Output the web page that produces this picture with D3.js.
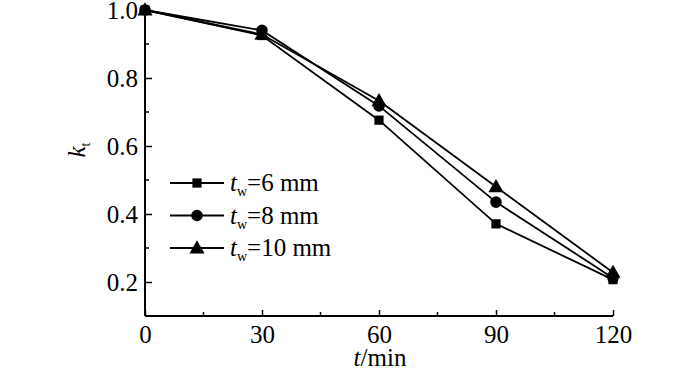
<!DOCTYPE html>
<html>
<head>
<meta charset="utf-8">
<script src="https://cdn.jsdelivr.net/npm/d3@7"></script>
<style>
  body { margin: 0; background: #fff; }
  svg text { font-family: "Liberation Serif", "Times New Roman", serif !important; fill: #000; }
</style>
</head>
<body>
<div id="chart"></div>
<script>
// data
const times = [0, 30, 60, 90, 120];
const kt6 = [1.0, 0.925, 0.676, 0.371, 0.207];
const kt8 = [1.0, 0.94, 0.718, 0.435, 0.212];
const kt10 = [1.0, 0.928, 0.733, 0.48, 0.228];
const seriesNames = ["6", "8", "10"];
const xTicks = [0, 30, 60, 90, 120];
const yTicks = [0.2, 0.4, 0.6, 0.8, 1.0];

const width = 700, height = 370;
const fs = 25;
const svg = d3.select("#chart").append("svg")
  .attr("width", width).attr("height", height);

const x = d3.scaleLinear().domain([0, 120]).range([145, 613]);
const y = d3.scaleLinear().domain([0.1, 1.0]).range([316, 10]);

// axes, ticks pointing inward
const xAxis = d3.axisBottom(x).tickValues(xTicks).tickSize(-6).tickPadding(9)
  .tickFormat(d3.format("d"));
const gx = svg.append("g").attr("transform", `translate(0,${y(0.1)})`).call(xAxis);
gx.selectAll(null)
  .data(xTicks.slice(0, -1).map(d => d + 15))
  .enter().append("line")
  .attr("x1", d => x(d)).attr("x2", d => x(d)).attr("y1", 0).attr("y2", -4)
  .attr("stroke", "#000").attr("stroke-width", 1.5);

const yAxis = d3.axisLeft(y).tickValues(yTicks).tickSize(-7).tickPadding(7)
  .tickFormat(d3.format(".1f"));
const gy = svg.append("g").attr("transform", `translate(${x(0)},0)`).call(yAxis);
gy.selectAll(null)
  .data([0.3, 0.5, 0.7, 0.9])
  .enter().append("line")
  .attr("x1", 0).attr("x2", 4).attr("y1", d => y(d)).attr("y2", d => y(d))
  .attr("stroke", "#000").attr("stroke-width", 1.5);

[gx, gy].forEach(g => {
  g.attr("font-size", fs).attr("font-family", "Liberation Serif");
  g.select(".domain").attr("stroke-width", 2);
  g.selectAll(".tick line").attr("stroke-width", 1.5);
});
gx.select(".domain").attr("d", `M${x(0)},0H${x(120)}`);
gy.select(".domain").attr("d", `M0,${y(0.1)}V${y(1.0)}`);

// axis titles
const xt = svg.append("text").attr("x", 380).attr("y", 366)
  .attr("text-anchor", "middle").attr("font-size", fs);
xt.append("tspan").attr("font-style", "italic").text("t");
xt.append("tspan").text("/min");

const yt = svg.append("text")
  .attr("transform", "translate(85,150) rotate(-90)")
  .attr("text-anchor", "middle").attr("font-size", fs);
yt.append("tspan").attr("font-style", "italic").text("k");
yt.append("tspan").attr("font-size", 14).attr("dy", 5).text("t");

// series
const symbols = [d3.symbolSquare, d3.symbolCircle, d3.symbolTriangle];
const symSizes = [85, 105, 100];
const series = [kt6, kt8, kt10];
const line = d3.line().x((d, i) => x(times[i])).y(d => y(d));

series.forEach(vals => {
  svg.append("path").datum(vals).attr("d", line)
    .attr("fill", "none").attr("stroke", "#000").attr("stroke-width", 1.8);
});
series.forEach((vals, s) => {
  svg.append("g").selectAll("path").data(vals).enter().append("path")
    .attr("d", d3.symbol().type(symbols[s]).size(symSizes[s]))
    .attr("transform", (d, i) => `translate(${x(times[i])},${y(d) + (s === 2 ? 1 : 0)})`)
    .attr("fill", "#000");
});

// legend
const legend = svg.append("g");
seriesNames.forEach((name, s) => {
  const ly = 183 + s * 32.5;
  legend.append("line").attr("x1", 170).attr("x2", 224).attr("y1", ly).attr("y2", ly)
    .attr("stroke", "#000").attr("stroke-width", 1.8);
  legend.append("path").attr("d", d3.symbol().type(symbols[s]).size(symSizes[s]))
    .attr("transform", `translate(197,${ly + (s === 2 ? 1 : 0)})`).attr("fill", "#000");
  const t = legend.append("text").attr("x", 230).attr("y", ly + 8).attr("font-size", fs);
  t.append("tspan").attr("font-style", "italic").text("t");
  t.append("tspan").attr("font-size", 14).attr("dy", 5).text("w");
  t.append("tspan").attr("dy", -5).text(`=${name} mm`);
});
</script>
</body>
</html>
